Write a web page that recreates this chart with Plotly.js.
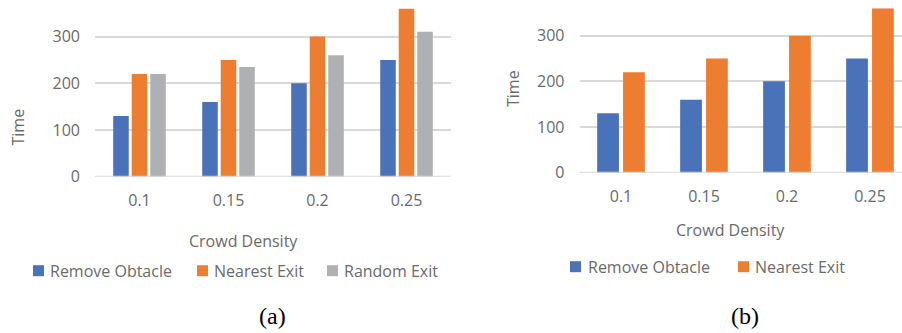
<!DOCTYPE html>
<html>
<head>
<meta charset="utf-8">
<script src="https://cdn.plot.ly/plotly-3.0.1.min.js"></script>
<style>
  html, body { margin: 0; padding: 0; background: #ffffff; }
  #chart { width: 902px; height: 333px; }
</style>
</head>
<body>
<div id="chart"></div>
<script>
// Evacuation time by crowd density for three exit strategies
const densities = ["0.1", "0.15", "0.2", "0.25"];
const removeObstacle = [130, 160, 200, 250];
const nearestExit = [220, 250, 300, 360];
const randomExit = [220, 235, 260, 310];
const seriesNames = ["Remove Obtacle", "Nearest Exit", "Random Exit"];
const seriesColors = ["#4A72B8", "#ED7D31", "#AFB0B3"];
const yTicks = [0, 100, 200, 300];
const xTitle = "Crowd Density";
const yTitle = "Time";
const panelCaptions = ["(a)", "(b)"];

const W = 902, H = 333;
const px = v => v / W;
const py = v => 1 - v / H;
const textColor = "#6A6A6A";
const font = { family: "Open Sans, sans-serif", size: 16, color: textColor };

function barTrace(name, values, color, xa, ya) {
  return { type: "bar", name: name, x: densities, y: values,
           marker: { color: color, line: { width: 0 } },
           xaxis: xa, yaxis: ya, showlegend: false, hoverinfo: "skip" };
}

const panelA = [removeObstacle, nearestExit, randomExit];
const panelB = [removeObstacle, nearestExit];

const data = [];
panelA.forEach((v, i) => data.push(barTrace(seriesNames[i], v, seriesColors[i], "x", "y")));
panelB.forEach((v, i) => data.push(barTrace(seriesNames[i], v, seriesColors[i], "x2", "y2")));

const yAxisCommon = {
  range: [0, 360], tickvals: yTicks, ticktext: yTicks.map(String),
  showgrid: true, gridcolor: "#D9D9D9", gridwidth: 2, zeroline: false,
  showline: false, ticks: "", tickfont: font, ticklabelstandoff: 14, fixedrange: true
};
const xAxisCommon = {
  type: "category", showgrid: false, zeroline: false, showline: false,
  ticks: "", tickfont: font, ticklabelstandoff: 12, fixedrange: true
};

// Hand-placed legend rows (coloured square + label) under each panel
const legendRows = [
  { y: 270.7, items: [{ sq: 33, tx: 48 }, { sq: 197, tx: 212 }, { sq: 327, tx: 342 }] },
  { y: 266.7, items: [{ sq: 570, tx: 586 }, { sq: 738, tx: 753 }] }
];

const shapes = [
  // horizontal category axis lines
  { type: "line", xref: "paper", yref: "y", x0: px(95), x1: px(451), y0: 0, y1: 0,
    line: { color: "#D9D9D9", width: 2 } },
  { type: "line", xref: "paper", yref: "y2", x0: px(579.5), x1: 1, y0: 0, y1: 0,
    line: { color: "#D9D9D9", width: 2 } }
];
const annotations = [];

legendRows.forEach(row => {
  row.items.forEach((it, i) => {
    shapes.push({ type: "rect", xref: "paper", yref: "paper",
      x0: px(it.sq), x1: px(it.sq + 11), y0: py(row.y + 5.5), y1: py(row.y - 5.5),
      fillcolor: seriesColors[i], line: { width: 0 } });
    annotations.push({ xref: "paper", yref: "paper", x: px(it.tx), y: py(row.y),
      xanchor: "left", yanchor: "middle", showarrow: false,
      text: seriesNames[i], font: font });
  });
});

// axis titles
[[243, 240.7], [730, 230]].forEach(p => annotations.push({
  xref: "paper", yref: "paper", x: px(p[0]), y: py(p[1]), xanchor: "center", yanchor: "middle",
  showarrow: false, text: xTitle, font: font }));
[[18, 127.5], [513, 89]].forEach(p => annotations.push({
  xref: "paper", yref: "paper", x: px(p[0]), y: py(p[1]), xanchor: "center", yanchor: "middle",
  showarrow: false, text: yTitle, textangle: -90, font: font }));

// panel captions
[[272.7, 316], [745, 315.5]].forEach((p, i) => annotations.push({
  xref: "paper", yref: "paper", x: px(p[0]), y: py(p[1]), xanchor: "center", yanchor: "middle",
  showarrow: false, text: panelCaptions[i],
  font: { family: "Liberation Serif, Times New Roman, serif", size: 24, color: "#000000" } }));

const layout = {
  width: W, height: H,
  margin: { l: 0, r: 0, t: 0, b: 0, pad: 0 },
  paper_bgcolor: "#ffffff", plot_bgcolor: "rgba(0,0,0,0)",
  barmode: "group", bargap: 0.376, bargroupgap: 0.16,
  showlegend: false,
  xaxis: Object.assign({}, xAxisCommon, { domain: [px(95), px(451)], range: [-0.5, 3.5], anchor: "y" }),
  yaxis: Object.assign({}, yAxisCommon, { domain: [py(176.7), py(8.5)], anchor: "x" }),
  xaxis2: Object.assign({}, xAxisCommon, { domain: [px(579.5), 1], range: [-0.5, 3.386], anchor: "y2" }),
  yaxis2: Object.assign({}, yAxisCommon, { domain: [py(172.7), py(8.3)], anchor: "x2" }),
  shapes: shapes,
  annotations: annotations
};

Plotly.newPlot("chart", data, layout, { staticPlot: true, displayModeBar: false });
</script>
</body>
</html>
